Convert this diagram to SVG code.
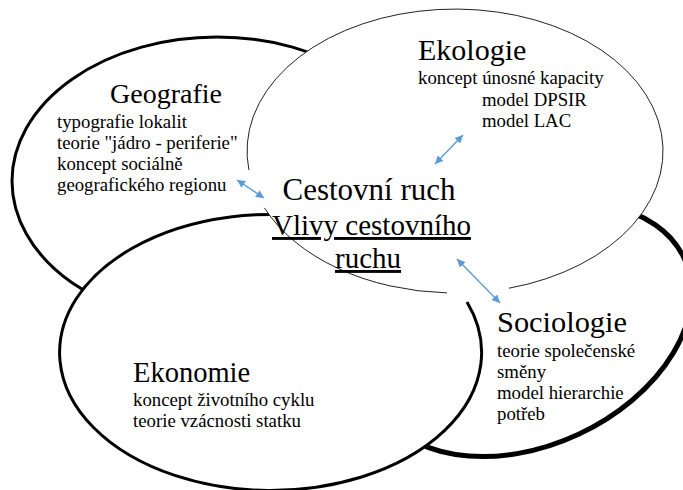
<svg xmlns="http://www.w3.org/2000/svg" width="683" height="490" viewBox="0 0 683 490">
<defs>
<marker id="ah" viewBox="0 0 10 10" refX="10" refY="5" markerWidth="9" markerHeight="8" markerUnits="userSpaceOnUse" orient="auto-start-reverse">
<path d="M0,0 L10,5 L0,10 z" fill="#5B9BD5"/>
</marker>
<style>
text{font-family:'Liberation Serif','DejaVu Serif',serif;fill:#000}
.h{font-size:28px}
.b{font-size:18.8px}
.c{font-size:29px}
.fill{fill:#fff;stroke:none}
.arr{stroke:#5B9BD5;stroke-width:1.4;fill:none;marker-start:url(#ah);marker-end:url(#ah)}
</style>
</defs>
<rect width="683" height="490" fill="#fff"/>
<g id="sociologie-shape">
<ellipse cx="530" cy="330" rx="170" ry="115" transform="rotate(-25 530 330)" fill="#fff" stroke="#000" stroke-width="5"/>
</g>
<g id="geografie-shape">
<ellipse cx="217" cy="181" rx="205" ry="144" fill="#fff" stroke="#000" stroke-width="3"/>
</g>
<g id="ekonomie-shape">
<ellipse cx="271" cy="353" rx="211" ry="138" class="fill"/>
<path d="M467,302 A211,138 0 1 1 420,255" fill="none" stroke="#000" stroke-width="3"/>
</g>
<g id="ekologie-shape">
<ellipse cx="455" cy="151" rx="208" ry="142" class="fill"/>
<path d="M264.5,208 A208,142 0 0 0 447,292.9 M509,288.2 A208,142 0 1 0 248.9,170" fill="none" stroke="#222" stroke-width="1"/>
</g>
<g id="connectors">
<line class="arr" x1="237" y1="180" x2="264" y2="198"/>
<line class="arr" x1="435" y1="164" x2="463" y2="135"/>
<line class="arr" x1="457" y1="259" x2="500" y2="303"/>
</g>
<g id="geografie" font-family="Liberation Serif, serif">
<text class="h" x="110" y="103" font-size="27.5">Geografie</text>
<text class="b" x="57" y="128">typografie lokalit</text>
<text class="b" x="57" y="149">teorie "jádro - periferie"</text>
<text class="b" x="57" y="170">koncept sociálně</text>
<text class="b" x="57" y="191">geografického regionu</text>
</g>
<g id="ekologie" font-family="Liberation Serif, serif">
<text class="h" x="418" y="60" style="font-size:30px">Ekologie</text>
<text class="b" x="418" y="84">koncept únosné kapacity</text>
<text class="b" x="482" y="106">model DPSIR</text>
<text class="b" x="482" y="127">model LAC</text>
</g>
<g id="cestovni-ruch" font-family="Liberation Serif, serif">
<text x="369" y="200" text-anchor="middle" style="font-size:31px">Cestovní ruch</text>
<text class="c" x="272" y="235" text-decoration="underline">Vlivy cestovního </text>
<text class="c" x="335" y="268" text-decoration="underline">ruchu</text>
</g>
<g id="sociologie" font-family="Liberation Serif, serif">
<text class="h" x="497" y="332" style="font-size:30.4px">Sociologie</text>
<text class="b" x="497" y="357">teorie společenské</text>
<text class="b" x="497" y="378">směny</text>
<text class="b" x="497" y="399">model hierarchie</text>
<text class="b" x="497" y="420">potřeb</text>
</g>
<g id="ekonomie" font-family="Liberation Serif, serif">
<text class="h" x="133" y="382" style="font-size:28.5px">Ekonomie</text>
<text class="b" x="133" y="406">koncept životního cyklu</text>
<text class="b" x="133" y="427">teorie vzácnosti statku</text>
</g>
</svg>
